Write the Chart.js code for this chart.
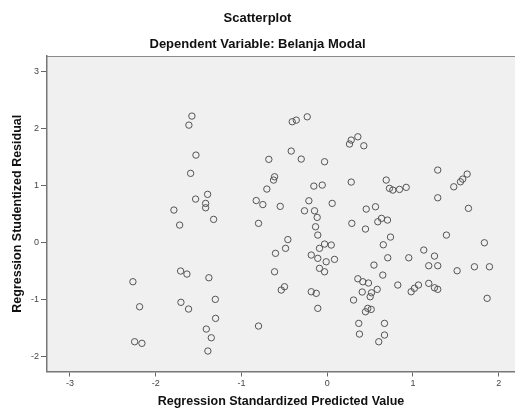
<!DOCTYPE html>
<html>
<head>
<meta charset="utf-8">
<script src="https://cdn.jsdelivr.net/npm/chart.js@4/dist/chart.umd.min.js"></script>
<style>
    html, body { margin: 0; padding: 0; background: #fff; overflow: hidden; }
    canvas { display: block; }
</style>
</head>
<body>
<canvas id="chart1" width="515" height="408"></canvas>
<script>
// Regression Standardized Predicted Value (x)
var predicted = [-2.266, -2.188, -2.246, -2.161, -1.788, -1.721, -1.710, -1.636, -1.706, -1.617,
    -1.578, -1.613, -1.531, -1.593, -1.395, -1.535, -1.418, -1.418, -1.325, -1.380,
    -1.305, -1.302, -1.410, -1.352, -1.392,
    -0.828, -0.801, -0.801, -0.751, -0.704, -0.681, -0.614, -0.626, -0.548, -0.614,
    -0.603, -0.498, -0.536, -0.486, -0.459, -0.408, -0.361, -0.233, -0.420, -0.303,
    -0.031, -0.156, -0.058, -0.214, -0.265, -0.148, -0.117, -0.136, -0.110, 0.058,
    -0.031, 0.047, -0.090, -0.186, -0.110, -0.012, 0.085, -0.090, -0.031, -0.186,
    -0.128, -0.110,
    0.357, 0.280, 0.260, 0.427, 0.280, 0.455, 0.563, 0.287, 0.446, 0.590,
    0.633, 0.703, 0.688, 0.726, 0.765, 0.843, 0.921, 0.738, 0.654, 0.545,
    0.648, 0.357, 0.415, 0.481, 0.583, 0.408, 0.516, 0.501, 0.307, 0.473,
    0.513, 0.446, 0.368, 0.668, 0.376, 0.668, 0.601, 0.706, 0.951, 0.823,
    0.979, 1.017, 1.064,
    1.126, 1.390, 1.251, 1.184, 1.289, 1.184, 1.251, 1.289, 1.515, 1.717,
    1.892, 1.833, 1.865, 1.289, 1.632, 1.580, 1.554, 1.476, 1.289, 1.647];

// Regression Studentized Residual (y)
var residual = [-0.692, -1.132, -1.747, -1.775, 0.568, 0.304, -0.504, -0.557, -1.054, -1.172,
    2.220, 2.061, 1.534, 1.213, 0.844, 0.761, 0.685, 0.608, 0.404, -0.622,
    -1.002, -1.336, -1.524, -1.677, -1.910,
    0.735, 0.334, -1.471, 0.664, 0.937, 1.459, 1.153, 1.095, 0.633, -0.517,
    -0.193, -0.780, -0.838, -0.105, 0.049, 2.120, 2.149, 2.207, 1.605, 1.464,
    1.417, 0.989, 1.007, 0.731, 0.555, 0.555, 0.439, 0.274, 0.128, 0.685,
    -0.030, -0.047, -0.105, -0.223, -0.281, -0.341, -0.299, -0.457, -0.517, -0.868,
    -0.896, -1.160,
    1.856, 1.798, 1.728, 1.698, 1.060, 0.585, 0.626, 0.334, 0.234, 0.362,
    0.422, 0.392, 1.095, 0.949, 0.919, 0.931, 0.967, 0.093, -0.042, -0.399,
    -0.575, -0.640, -0.692, -0.715, -0.826, -0.873, -0.886, -0.956, -1.014, -1.160,
    -1.178, -1.220, -1.424, -1.424, -1.612, -1.629, -1.747, -0.271, -0.271, -0.750,
    -0.868, -0.808, -0.750,
    -0.135, 0.128, -0.241, -0.411, -0.411, -0.721, -0.798, -0.826, -0.499, -0.429,
    -0.429, -0.007, -0.984, 1.271, 1.200, 1.112, 1.065, 0.977, 0.784, 0.598];

var xTicks = [-3, -2, -1, 0, 1, 2];
var yTicks = [-2, -1, 0, 1, 2, 3];

var points = predicted.map(function (x, i) {
    return { x: x, y: residual[i] };
});

// grey plot background + top frame line
var plotFrame = {
    id: 'plotFrame',
    beforeDraw: function (chart) {
        var a = chart.chartArea;
        var ctx = chart.ctx;
        ctx.save();
        ctx.fillStyle = '#f0f0f0';
        ctx.fillRect(a.left, a.top, a.right - a.left, a.bottom - a.top);
        ctx.strokeStyle = '#8a8a8a';
        ctx.lineWidth = 1;
        ctx.beginPath();
        ctx.moveTo(a.left, a.top + 0.5);
        ctx.lineTo(a.right, a.top + 0.5);
        ctx.stroke();
        ctx.restore();
    }
};

Chart.defaults.font.family = '"Liberation Sans", Arial, sans-serif';
Chart.defaults.color = '#333';

new Chart(document.getElementById('chart1'), {
    type: 'scatter',
    data: {
        datasets: [{
            label: 'Belanja Modal',
            data: points,
            pointStyle: 'circle',
            pointRadius: 3.2,
            borderWidth: 1,
            borderColor: '#555',
            backgroundColor: 'rgba(0,0,0,0)'
        }]
    },
    options: {
        responsive: false,
        devicePixelRatio: 1,
        animation: false,
        layout: { padding: 0, autoPadding: false },
        plugins: {
            legend: { display: false },
            tooltip: { enabled: false },
            title: {
                display: true,
                text: 'Scatterplot',
                color: '#111',
                font: { size: 13, weight: 'bold' },
                padding: { top: 11, bottom: 6 }
            },
            subtitle: {
                display: true,
                text: 'Dependent Variable: Belanja Modal',
                color: '#111',
                font: { size: 13, weight: 'bold' },
                padding: { top: 3.6, bottom: 4.2 }
            }
        },
        scales: {
            x: {
                type: 'linear',
                min: -3.268,
                max: 2.19,
                afterBuildTicks: function (scale) {
                    scale.ticks = xTicks.map(function (v) { return { value: v }; });
                },
                afterFit: function (scale) {
                    scale.height = 36.5;
                    scale.paddingLeft = 0;
                    scale.paddingRight = 0;
                },
                ticks: { font: { size: 9 }, color: '#444', padding: 2, maxRotation: 0 },
                grid: { drawOnChartArea: false, drawTicks: true, tickLength: 5, color: '#666' },
                border: { display: true, color: '#777', width: 1.5 },
                title: {
                    display: true,
                    text: 'Regression Standardized Predicted Value',
                    color: '#111',
                    font: { size: 12.5, weight: 'bold', lineHeight: 1 },
                    padding: { top: 0, bottom: 0 }
                }
            },
            y: {
                type: 'linear',
                min: -2.27,
                max: 3.276,
                afterBuildTicks: function (scale) {
                    scale.ticks = yTicks.map(function (v) { return { value: v }; });
                },
                afterFit: function (scale) {
                    scale.width = 47;
                    scale.paddingTop = 0;
                    scale.paddingBottom = 0;
                },
                ticks: { font: { size: 9 }, color: '#444', padding: 2 },
                grid: { drawOnChartArea: false, drawTicks: true, tickLength: 6, color: '#666' },
                border: { display: true, color: '#777', width: 1.5 },
                title: {
                    display: true,
                    text: 'Regression Studentized Residual',
                    color: '#111',
                    font: { size: 12.5, weight: 'bold', lineHeight: 1 },
                    padding: { top: 11, bottom: 0 }
                }
            }
        }
    },
    plugins: [plotFrame]
});
</script>
</body>
</html>
